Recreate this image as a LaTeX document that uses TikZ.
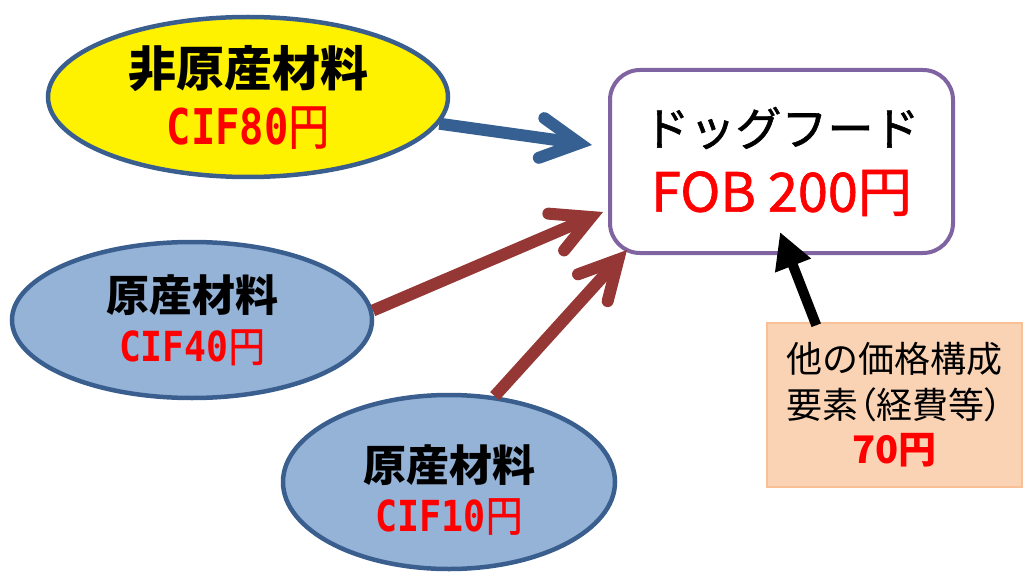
\documentclass[tikz,border=0pt]{standalone}
\usepackage{fontspec}
\usepackage{graphicx}
\setmainfont{Noto Sans CJK JP}
\newfontfamily\cjk{Noto Sans CJK JP}
\newfontfamily\cjkp[RawFeature=+palt]{Noto Sans CJK JP}
\newfontfamily\cjkmed[FakeBold=1.2]{Noto Sans CJK JP}
\newfontfamily\dvm{DejaVu Sans Mono}
\usetikzlibrary{shapes.geometric,arrows.meta,calc}
\definecolor{edgeblue}{HTML}{3A5F8F}
\definecolor{fillblue}{HTML}{95B3D7}
\definecolor{arrblue}{HTML}{376092}
\definecolor{arrred}{HTML}{953735}
\definecolor{boxpurple}{HTML}{8064A2}
\definecolor{peach}{HTML}{FAD3B5}
\definecolor{peachedge}{HTML}{F9C096}
\newcommand\cifv[3]{\textcolor{red}{\resizebox{#2pt}{#3pt}{\dvm\bfseries CIF#1\cjkmed\mdseries 円}}}
\tikzset{
  ell/.style={ellipse, draw=edgeblue, line width=4.5pt, inner sep=0pt, align=center},
  yel/.style={ell, fill=yellow},
  blu/.style={ell, fill=fillblue},
  barb/.style={line width=12pt, line cap=butt,
    -{Straight Barb[length=38pt,width=40pt,line cap=round,line join=miter]}},
  tri/.style={line width=10pt, -{Triangle[length=36pt,width=36pt]}},
}
\begin{document}
\begin{tikzpicture}[x=1pt,y=-1pt]
\useasboundingbox (0,0) rectangle (1024,572);
% ellipses
\node[yel, minimum width=400pt, minimum height=160pt,
  font=\fontsize{48}{58}\selectfont\bfseries] (e1) at (248,97)
  {非原産材料\\ \cifv{80}{162}{38}};
\node[blu, minimum width=360pt, minimum height=156pt,
  font=\fontsize{43}{50}\selectfont\bfseries] (e2) at (192,320)
  {原産材料\\ \cifv{40}{146}{32}};
\node[blu, minimum width=332pt, minimum height=174pt,
  font=\fontsize{43}{50}\selectfont\bfseries] (e3) at (449,482)
  {\rule{0pt}{52pt}原産材料\\ \cifv{10}{147}{33}};
% product box
\node[draw=boxpurple, line width=4pt, rounded corners=30pt, fill=white,
  minimum width=343pt, minimum height=183pt, align=center, inner sep=0pt,
  font=\fontsize{46}{66}\selectfont\cjkmed]
  (dog) at (781.5,161.5)
  {ドッグフード\\ \textcolor{red}{\fontsize{54}{66}\selectfont FOB 200円}};
% other costs box
\node[draw=peachedge, fill=peach, line width=1.5pt,
  minimum width=255pt, minimum height=164pt, align=center, inner sep=0pt,
  font=\fontsize{36}{46}\selectfont]
  (oth) at (894.5,405)
  {他の価格構成\\ {\cjkp 要素（経費等）}\\[-1pt]
   \textcolor{red}{\fontsize{38}{46}\selectfont\bfseries 70円}};
% arrow end points
\coordinate (t1) at (592,145);
\coordinate (t2) at (603,212);
\coordinate (t3) at (627,250);
\coordinate (t4) at (780,232);
\coordinate (s4) at ($(oth.north west)+(50,3)$);
% arrows
\draw[barb, draw=arrblue] (e1) -- (t1);
\draw[barb, draw=arrred] (e2.3) -- (t2);
\draw[barb, draw=arrred] (e3.62) -- (t3);
\draw[tri, draw=black, fill=black] (s4) -- (t4);
\end{tikzpicture}
\end{document}
